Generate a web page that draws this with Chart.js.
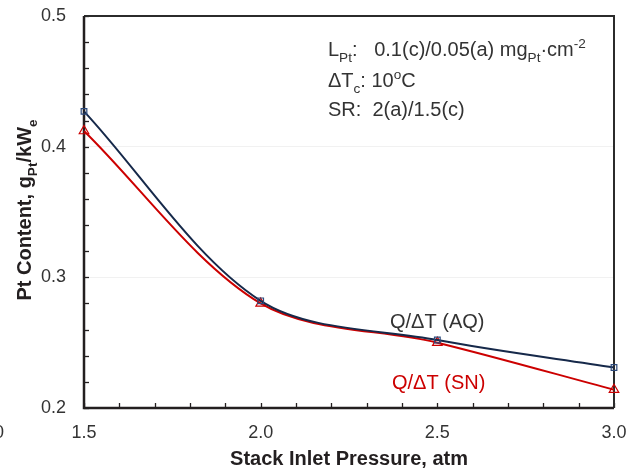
<!DOCTYPE html>
<html>
<head>
<meta charset="utf-8">
<script src="https://cdn.jsdelivr.net/npm/chart.js@4.4.1/dist/chart.umd.min.js"></script>
<style>
  html, body { margin: 0; padding: 0; background: #fff; }
  #wrap { width: 635px; height: 468px; position: relative; }
</style>
</head>
<body>
<div id="wrap"><canvas id="ptChart"></canvas></div>
<script>
// values
const pressure = [1.5, 2.0, 2.5, 3.0];
const ptAQ = [0.427, 0.282, 0.252, 0.231];
const ptSN = [0.412, 0.280, 0.250, 0.214];
const xTicks = [1.5, 2.0, 2.5, 3.0];
const yTicks = [0.2, 0.3, 0.4, 0.5];

const FONT = '"Liberation Sans", Arial, sans-serif';
const NAVY = '#16294a';
const RED = '#cc0000';

// draw a line of text made of pieces, some of them sub/superscript
function richText(ctx, x, y, parts, size, color, bold) {
    let cx = x;
    parts.forEach(p => {
        const s = p.sub || p.sup ? size * 0.68 : size;
        ctx.font = (bold ? 'bold ' : '') + s + 'px ' + FONT;
        ctx.fillStyle = color;
        const dy = p.sub ? size * 0.28 : (p.sup ? -size * 0.38 : 0);
        ctx.fillText(p.t, cx, y + dy);
        cx += ctx.measureText(p.t).width;
    });
    return cx - x;
}

function richWidth(ctx, parts, size, bold) {
    let w = 0;
    parts.forEach(p => {
        const s = p.sub || p.sup ? size * 0.68 : size;
        ctx.font = (bold ? 'bold ' : '') + s + 'px ' + FONT;
        w += ctx.measureText(p.t).width;
    });
    return w;
}

const framePlugin = {
    id: 'frame',
    beforeDatasetsDraw(chart) {
        const { ctx, chartArea: a, scales } = chart;
        ctx.save();
        // minor ticks pointing inwards
        ctx.strokeStyle = '#231f20';
        ctx.lineWidth = 1.3;
        for (let v = 0.2; v <= 0.5001; v += 0.02) {
            const py = Math.round(scales.y.getPixelForValue(v)) + 0.5;
            ctx.beginPath();
            ctx.moveTo(a.left, py);
            ctx.lineTo(a.left + 5, py);
            ctx.stroke();
        }
        for (let v = 1.5; v <= 3.0001; v += 0.1) {
            const px = Math.round(scales.x.getPixelForValue(v)) + 0.5;
            ctx.beginPath();
            ctx.moveTo(px, a.bottom);
            ctx.lineTo(px, a.bottom - 5);
            ctx.stroke();
        }
        // box round the plot
        ctx.strokeStyle = '#2b2b2b';
        ctx.lineWidth = 2;
        ctx.beginPath();
        ctx.moveTo(a.left, a.top);
        ctx.lineTo(a.right, a.top);
        ctx.lineTo(a.right, a.bottom);
        ctx.stroke();
        ctx.strokeStyle = '#231f20';
        ctx.lineWidth = 2.5;
        ctx.beginPath();
        ctx.moveTo(a.left, a.top);
        ctx.lineTo(a.left, a.bottom);
        ctx.lineTo(a.right, a.bottom);
        ctx.stroke();
        ctx.restore();
    },
    afterDraw(chart) {
        const { ctx, chartArea: a } = chart;
        ctx.save();
        ctx.textBaseline = 'alphabetic';
        ctx.textAlign = 'left';

        // notes in the upper right
        richText(ctx, 328, 56, [
            { t: 'L' }, { t: 'Pt', sub: true },
            { t: ':   0.1(c)/0.05(a) mg' }, { t: 'Pt', sub: true },
            { t: '\u00b7cm' }, { t: '-2', sup: true }
        ], 20, '#333');
        richText(ctx, 328, 87, [
            { t: '\u0394T' }, { t: 'c', sub: true }, { t: ': 10' },
            { t: 'o', sup: true }, { t: 'C' }
        ], 20, '#333');
        richText(ctx, 328, 116, [{ t: 'SR:  2(a)/1.5(c)' }], 20, '#333');

        // series labels
        ctx.font = '20px ' + FONT;
        ctx.fillStyle = '#333';
        ctx.fillText('Q/\u0394T (AQ)', 390, 328);
        ctx.fillStyle = RED;
        ctx.fillText('Q/\u0394T (SN)', 392, 389);

        // axis titles
        ctx.font = 'bold 20px ' + FONT;
        ctx.fillStyle = '#231f20';
        ctx.textAlign = 'center';
        ctx.fillText('Stack Inlet Pressure, atm', (a.left + a.right) / 2, 465);

        const yTitle = [
            { t: 'Pt Content, g' }, { t: 'Pt', sub: true },
            { t: '/kW' }, { t: 'e', sub: true }
        ];
        const w = richWidth(ctx, yTitle, 20, true);
        ctx.translate(31, (a.top + a.bottom) / 2 - 2);
        ctx.rotate(-Math.PI / 2);
        ctx.textAlign = 'left';
        richText(ctx, -w / 2, 0, yTitle, 20, '#231f20', true);
        ctx.setTransform(1, 0, 0, 1, 0, 0);

        // stray cut-off label at the far left
        ctx.font = '18px ' + FONT;
        ctx.fillStyle = '#333';
        ctx.textAlign = 'right';
        ctx.fillText('1.0', 4, 438);
        ctx.restore();
    }
};

new Chart(document.getElementById('ptChart'), {
    type: 'line',
    data: {
        datasets: [{
            label: 'Q/\u0394T (AQ)',
            data: pressure.map((p, i) => ({ x: p, y: ptAQ[i] })),
            borderColor: NAVY,
            borderWidth: 2,
            tension: 0.32,
            pointStyle: 'rect',
            pointRadius: 4,
            pointBorderWidth: 1.2,
            pointBorderColor: '#2c4a7c',
            pointBackgroundColor: 'rgba(255,255,255,0)',
            clip: false
        }, {
            label: 'Q/\u0394T (SN)',
            data: pressure.map((p, i) => ({ x: p, y: ptSN[i] })),
            borderColor: RED,
            borderWidth: 2,
            tension: 0.32,
            pointStyle: 'triangle',
            pointRadius: 5.5,
            pointBorderWidth: 1.2,
            pointBorderColor: RED,
            pointBackgroundColor: 'rgba(255,255,255,0)',
            clip: false
        }]
    },
    options: {
        responsive: true,
        maintainAspectRatio: false,
        animation: false,
        layout: { padding: { top: 16, right: 21, left: 0, bottom: 0 } },
        plugins: {
            legend: { display: false },
            tooltip: { enabled: false }
        },
        scales: {
            x: {
                type: 'linear',
                min: 1.5,
                max: 3.0,
                afterBuildTicks: s => { s.ticks = xTicks.map(v => ({ value: v })); },
                afterFit: s => { s.height = 60; s.paddingLeft = 0; s.paddingRight = 0; },
                ticks: {
                    padding: 14,
                    color: '#333',
                    font: { family: FONT, size: 18 },
                    callback: v => Number(v).toFixed(1)
                },
                grid: { display: false, drawTicks: false },
                border: { display: false }
            },
            y: {
                min: 0.2,
                max: 0.5,
                afterBuildTicks: s => { s.ticks = yTicks.map(v => ({ value: v })); },
                afterFit: s => { s.width = 84; s.paddingTop = 0; s.paddingBottom = 0; },
                ticks: {
                    padding: 18,
                    color: '#333',
                    font: { family: FONT, size: 18 },
                    callback: v => Number(v).toFixed(1)
                },
                grid: {
                    drawTicks: false,
                    color: ctx => (ctx.tick && (ctx.tick.value === 0.3 || ctx.tick.value === 0.4)) ? '#f1f1f1' : 'rgba(0,0,0,0)'
                },
                border: { display: false }
            }
        }
    },
    plugins: [framePlugin]
});
</script>
</body>
</html>
